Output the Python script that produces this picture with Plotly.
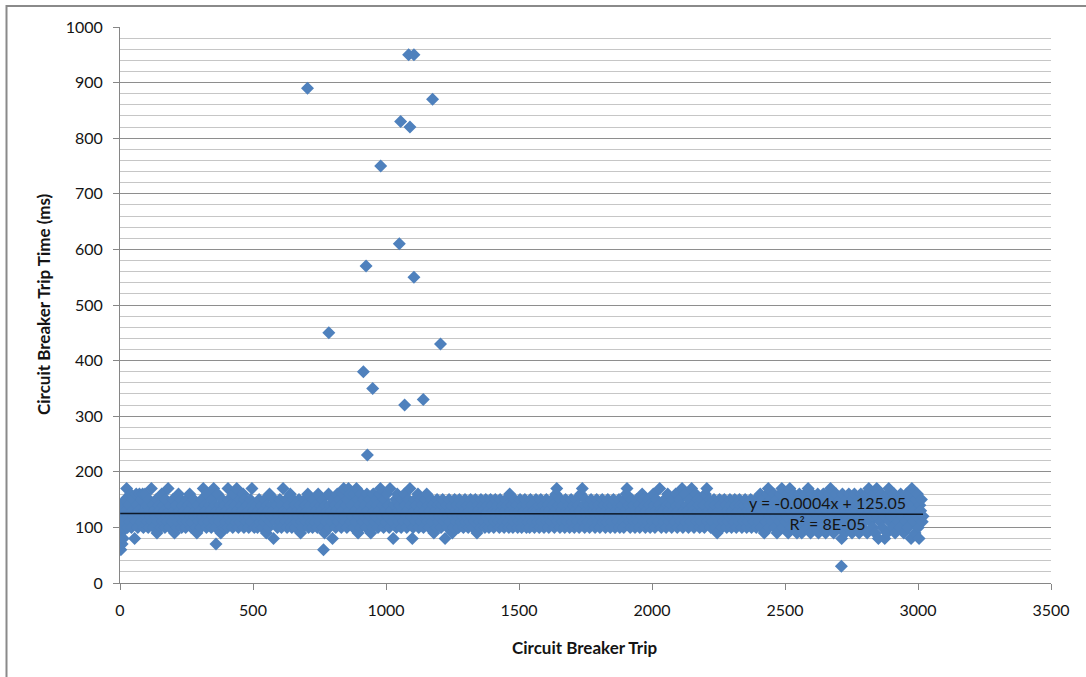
import plotly.graph_objects as go

# Trip times (ms) for every 3rd circuit-breaker trip, grouped by trip range
trip_step = 3
ms_trips_0001_0508 = [
    130, 90, 140, 100, 120, 110, 150, 130, 170, 100,
    120, 140, 110, 160, 100, 130, 150, 120, 80, 110,
    160, 140, 100, 130, 160, 120, 110, 150, 160, 100,
    130, 160, 120, 140, 110, 100, 150, 130, 120, 170,
    110, 140, 100, 130, 120, 150, 90, 110, 140, 130,
    100, 120, 160, 110, 140, 130, 100, 150, 120, 110,
    170, 130, 100, 140, 120, 110, 150, 130, 90, 120,
    140, 100, 110, 160, 130, 120, 150, 100, 140, 110,
    130, 120, 100, 150, 110, 140, 130, 160, 120, 100,
    110, 140, 150, 120, 130, 100, 90, 140, 110, 120,
    130, 100, 150, 120, 170, 110, 140, 130, 100, 160,
    120, 110, 140, 130, 100, 150, 120, 170, 110, 140,
    100, 130, 160, 120, 110, 140, 90, 130, 150, 100,
    120, 140, 110, 130, 100, 170, 150, 120, 140, 110,
    130, 100, 160, 120, 140, 110, 170, 130, 100, 150,
    110, 120, 140, 130, 160, 100, 150, 120, 110, 140,
    130, 100, 120, 150, 110, 170, 140, 130, 100, 120,
]
ms_trips_0511_1018 = [
    120, 140, 100, 130, 150, 110, 120, 140, 100, 130,
    110, 150, 120, 90, 140, 130, 100, 160, 110, 120,
    140, 130, 80, 150, 120, 110, 140, 100, 130, 120,
    150, 110, 100, 140, 170, 130, 120, 110, 150, 100,
    130, 140, 120, 160, 110, 100, 130, 150, 120, 140,
    100, 110, 130, 120, 150, 140, 90, 110, 130, 100,
    120, 150, 140, 110, 130, 160, 100, 120, 140, 110,
    130, 100, 150, 120, 110, 140, 130, 100, 160, 120,
    110, 140, 130, 150, 100, 120, 90, 140, 110, 130,
    120, 160, 100, 140, 130, 110, 80, 150, 120, 140,
    100, 130, 160, 110, 120, 150, 140, 100, 130, 160,
    170, 120, 110, 140, 100, 150, 170, 130, 160, 110,
    140, 120, 100, 160, 130, 110, 170, 150, 90, 120,
    140, 100, 160, 130, 110, 150, 120, 140, 100, 160,
    130, 110, 150, 120, 90, 140, 100, 160, 130, 110,
    120, 150, 140, 100, 130, 160, 170, 110, 120, 140,
    100, 150, 130, 110, 160, 120, 140, 100, 170, 130,
]
ms_trips_1021_1528 = [
    130, 110, 80, 140, 120, 150, 100, 160, 130, 110,
    140, 120, 100, 150, 130, 110, 160, 140, 120, 100,
    130, 150, 110, 170, 140, 120, 80, 100, 130, 150,
    110, 140, 120, 160, 100, 130, 150, 110, 140, 120,
    100, 130, 150, 120, 160, 110, 140, 100, 130, 120,
    150, 110, 140, 90, 120, 130, 100, 150, 140, 110,
    120, 130, 100, 140, 150, 110, 120, 80, 130, 140,
    100, 120, 150, 110, 130, 140, 90, 120, 100, 150,
    130, 110, 140, 120, 100, 150, 130, 110, 140, 120,
    100, 130, 150, 110, 120, 140, 100, 130, 110, 150,
    120, 140, 100, 130, 110, 150, 120, 90, 140, 130,
    110, 100, 150, 120, 140, 130, 110, 100, 150, 120,
    140, 130, 100, 110, 150, 120, 140, 130, 100, 110,
    150, 120, 130, 140, 110, 100, 150, 130, 120, 140,
    110, 100, 130, 150, 120, 140, 110, 100, 160, 130,
    120, 140, 100, 110, 150, 130, 120, 140, 100, 110,
    130, 150, 120, 100, 140, 110, 130, 150, 120, 100,
]
ms_trips_1531_2038 = [
    140, 110, 130, 100, 150, 120, 140, 110, 130, 100,
    120, 150, 130, 110, 140, 100, 120, 150, 110, 130,
    140, 100, 120, 130, 150, 110, 140, 100, 130, 120,
    110, 150, 140, 120, 100, 130, 160, 170, 110, 140,
    120, 100, 150, 130, 110, 140, 120, 100, 150, 130,
    110, 120, 140, 100, 130, 150, 110, 120, 140, 100,
    130, 150, 120, 110, 140, 100, 130, 160, 120, 170,
    110, 140, 100, 150, 130, 120, 110, 140, 100, 130,
    150, 120, 110, 130, 140, 100, 120, 150, 130, 110,
    140, 100, 120, 130, 150, 110, 140, 120, 100, 130,
    110, 150, 140, 120, 100, 130, 110, 140, 150, 120,
    100, 130, 120, 110, 140, 150, 100, 130, 120, 140,
    110, 100, 150, 130, 160, 170, 120, 140, 110, 100,
    130, 150, 120, 140, 110, 100, 130, 150, 120, 110,
    140, 100, 130, 120, 160, 150, 110, 140, 100, 130,
    120, 110, 150, 140, 100, 130, 120, 110, 160, 140,
    100, 130, 150, 120, 110, 140, 170, 130, 100, 120,
]
ms_trips_2041_2548 = [
    130, 110, 150, 120, 100, 140, 160, 130, 110, 120,
    140, 100, 150, 130, 120, 110, 160, 140, 100, 130,
    120, 150, 110, 140, 170, 100, 130, 120, 160, 110,
    140, 130, 100, 150, 120, 110, 170, 140, 130, 100,
    120, 160, 110, 150, 130, 140, 100, 120, 110, 150,
    130, 140, 100, 160, 120, 170, 110, 130, 150, 140,
    100, 120, 110, 130, 150, 140, 100, 120, 90, 130,
    110, 150, 140, 120, 100, 130, 110, 150, 120, 140,
    100, 130, 110, 120, 150, 140, 100, 130, 120, 110,
    150, 140, 100, 120, 130, 110, 150, 140, 120, 100,
    130, 110, 140, 150, 120, 100, 130, 110, 140, 120,
    150, 100, 130, 120, 110, 140, 150, 100, 130, 120,
    110, 140, 160, 100, 130, 150, 120, 90, 140, 110,
    130, 160, 170, 100, 120, 150, 140, 110, 130, 160,
    100, 120, 150, 90, 140, 130, 110, 160, 120, 170,
    100, 140, 130, 150, 110, 120, 160, 90, 140, 170,
    130, 100, 150, 120, 160, 110, 140, 130, 90, 150,
]
ms_trips_2551_3019 = [
    120, 160, 100, 140, 90, 150, 130, 110, 160, 120,
    140, 100, 170, 130, 150, 90, 120, 160, 110, 140,
    130, 100, 150, 120, 160, 90, 140, 110, 130, 150,
    100, 160, 120, 140, 90, 130, 150, 110, 160, 120,
    170, 100, 140, 130, 90, 150, 120, 160, 110, 140,
    100, 130, 150, 120, 80, 160, 110, 140, 90, 130,
    150, 120, 100, 160, 140, 110, 130, 90, 150, 120,
    160, 100, 140, 130, 110, 150, 90, 120, 160, 140,
    100, 130, 150, 110, 120, 160, 90, 140, 170, 130,
    110, 150, 120, 100, 160, 140, 90, 130, 170, 120,
    80, 150, 110, 140, 160, 100, 130, 120, 80, 150,
    140, 90, 160, 170, 110, 130, 120, 150, 100, 140,
    160, 90, 130, 120, 150, 110, 140, 100, 160, 130,
    120, 150, 90, 140, 110, 160, 130, 100, 150, 120,
    160, 80, 170, 140, 110, 130, 90, 150, 120, 160,
    100, 80, 140, 130, 150, 110, 120,
]

# Isolated readings well away from the main band
spike_trip = [3, 8, 12, 361, 705, 765, 785, 915, 925, 930, 950, 980,
              1050, 1055, 1070, 1085, 1090, 1105, 1105, 1140, 1175, 1205, 2712]
spike_ms = [60, 70, 80, 70, 890, 60, 450, 380, 570, 230, 350, 750,
            610, 830, 320, 950, 820, 950, 550, 330, 870, 430, 30]

# Linear trendline reported for the series
trend_slope = -0.0004
trend_intercept = 125.05
trend_label = "y = -0.0004x + 125.05<br>R\u00b2 = 8E-05"

x_title = "Circuit Breaker Trip"
y_title = "Circuit Breaker Trip Time (ms)"

band_ms = (ms_trips_0001_0508 + ms_trips_0511_1018 + ms_trips_1021_1528
           + ms_trips_1531_2038 + ms_trips_2041_2548 + ms_trips_2551_3019)
band_trip = [1 + trip_step * i for i in range(len(band_ms))]

all_trips = band_trip + spike_trip
trend_x = [min(all_trips), max(all_trips)]
trend_y = [trend_slope * x + trend_intercept for x in trend_x]

W, H = 1086, 677
M_L, M_R, M_T, M_B = 120, 35, 27, 94
PW, PH = W - M_L - M_R, H - M_T - M_B


def px_x(px):
    return (px - M_L) / PW


def px_y(py):
    return (H - M_B - py) / PH


FONT = "Lato"
BLUE = "#4F81BD"
AXIS_GREY = "#868686"
TEXT = "#141414"

marker = dict(symbol="diamond", size=10, color=BLUE, line=dict(width=0))

fig = go.Figure()
fig.add_trace(go.Scatter(x=band_trip, y=band_ms, mode="markers",
                         marker=marker, hoverinfo="x+y"))
fig.add_trace(go.Scatter(x=spike_trip, y=spike_ms, mode="markers",
                         marker=marker, hoverinfo="x+y"))
fig.add_trace(go.Scatter(x=trend_x, y=trend_y, mode="lines",
                         line=dict(color="#0e1a2a", width=1.5),
                         hoverinfo="skip"))

fig.update_layout(
    width=W, height=H,
    margin=dict(l=M_L, r=M_R, t=M_T, b=M_B),
    paper_bgcolor="white", plot_bgcolor="white",
    showlegend=False,
    font=dict(family=FONT, color=TEXT, size=16),
)

fig.update_xaxes(
    range=[0, 3500], tick0=0, dtick=500,
    showgrid=False, zeroline=False,
    showline=True, linecolor=AXIS_GREY, linewidth=1,
    ticks="outside", ticklen=6, tickcolor=AXIS_GREY,
    tickfont=dict(family=FONT, size=16, color=TEXT),
    ticklabelstandoff=7,
)
fig.update_yaxes(
    range=[0, 1000], tick0=0, dtick=100,
    showgrid=True, gridcolor="#8e8e8e", gridwidth=1,
    minor=dict(dtick=20, showgrid=True, gridcolor="#c6c6c6", gridwidth=1),
    zeroline=False,
    showline=True, linecolor=AXIS_GREY, linewidth=1,
    ticks="outside", ticklen=6, tickcolor=AXIS_GREY,
    tickfont=dict(family=FONT, size=16, color=TEXT),
    ticklabelstandoff=7,
)

fig.add_annotation(text=trend_label, xref="paper", yref="paper",
                   x=px_x(827), y=px_y(513), xanchor="center", yanchor="middle",
                   align="center", showarrow=False,
                   font=dict(family=FONT, size=16, color=TEXT))

fig.add_annotation(text="<b>" + x_title + "</b>", xref="paper", yref="paper",
                   x=px_x(585), y=px_y(647), xanchor="center", yanchor="middle",
                   showarrow=False, font=dict(family=FONT, size=17, color=TEXT))
fig.add_annotation(text="<b>" + y_title + "</b>", xref="paper", yref="paper",
                   x=px_x(43), y=px_y(304), xanchor="center", yanchor="middle",
                   textangle=-90, showarrow=False,
                   font=dict(family=FONT, size=17, color=TEXT))

# Chart-area frame
fig.add_shape(type="rect", xref="paper", yref="paper",
              x0=px_x(6.5), x1=px_x(W + 20), y0=px_y(H + 20), y1=px_y(6),
              line=dict(color="#8a8a8a", width=2), fillcolor="rgba(0,0,0,0)",
              layer="below")

fig.write_html("out.html")
